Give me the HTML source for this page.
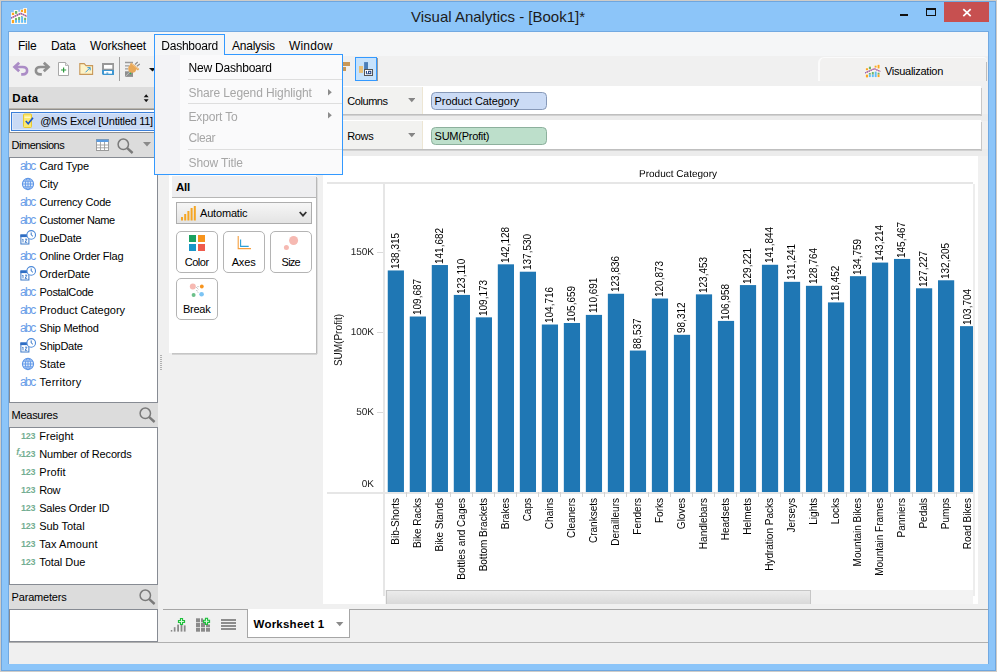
<!DOCTYPE html>
<html><head><meta charset="utf-8"><title>Visual Analytics</title>
<style>
html,body{margin:0;padding:0;}
body{width:997px;height:672px;position:relative;overflow:hidden;background:#8cc5f9;font-family:"Liberation Sans", sans-serif;}
div,span.t,svg{position:absolute;box-sizing:border-box;}
span.t{white-space:pre;display:block;}
</style></head><body>
<div style="left:0px;top:0px;width:997px;height:672px;background:#cfccc8;"></div>
<div style="left:1px;top:1px;width:995px;height:670px;background:#6fa6de;"></div>
<div style="left:2px;top:2px;width:993px;height:668px;background:#8cc5f9;"></div>
<div style="left:8px;top:31px;width:981px;height:633px;background:#72a9e1;"></div>
<span class="t" style="font-size:15px;line-height:15px;color:#1c1c1c;letter-spacing:0.001px;left:411px;top:8.80px;">Visual Analytics - [Book1]*</span>
<svg style="left:11px;top:8px" width="16" height="16" viewBox="0 0 16 16">
<path d="M0 16 V4.2 H2.8 V2 H7.2 V3.8 H9.2 V1.4 H12.2 V0 H16 V16 Z" fill="#fdf9f2"/>
<rect x="0.9" y="4.8" width="2.2" height="2.2" fill="#fba51f"/><rect x="4" y="3" width="2.2" height="2.8" fill="#6db56a"/>
<rect x="10" y="1.9" width="2" height="2.1" fill="#fba51f"/><rect x="13.1" y="0.9" width="2" height="4.1" fill="#fba51f"/>
<rect x="0.9" y="12" width="2.2" height="3.1" fill="#fba51f"/>
<rect x="4" y="10.1" width="2" height="1.9" fill="#6db56a"/><rect x="4" y="12" width="2" height="2.8" fill="#62bdf5"/>
<rect x="7.1" y="9" width="2" height="3" fill="#6db56a"/><rect x="7.1" y="12" width="2" height="2.8" fill="#62bdf5"/>
<rect x="10.1" y="8.6" width="2" height="6.2" fill="#62bdf5"/><rect x="10.3" y="8" width="1" height="1" fill="#6db56a"/>
<rect x="13.1" y="9.8" width="2" height="2.2" fill="#6db56a"/><rect x="13.1" y="12" width="2" height="2.8" fill="#62bdf5"/>
<path d="M0 10.1 L9.7 5.4 L16 8.4" stroke="#e89aa0" stroke-width="1.5" fill="none"/>
<path d="M0 10.1 L9.7 5.4 L16 8.4" stroke="#7a5cc0" stroke-width="1.5" fill="none" stroke-dasharray="1.1 1.1"/>
</svg>
<div style="left:900px;top:14px;width:8px;height:2px;background:#111;"></div>
<div style="left:926px;top:8px;width:10px;height:8px;border:1px solid #111;border-top-width:2px;"></div>
<div style="left:944px;top:2px;width:45px;height:20px;background:#c75050;"></div>
<svg style="left:962px;top:8px" width="10" height="9" viewBox="0 0 10 9"><path d="M1.3 1.2 L8.7 8.2 M8.7 1.2 L1.3 8.2" stroke="#fff" stroke-width="1.7" fill="none"/></svg>
<div style="left:9px;top:32px;width:979px;height:632px;background:#f0f0f0;"></div>
<div style="left:9px;top:32px;width:979px;height:24px;background:#f5f6f7;"></div>
<span class="t" style="font-size:12px;line-height:12px;color:#000;letter-spacing:-0.211px;left:18px;top:40.24px;">File</span>
<span class="t" style="font-size:12px;line-height:12px;color:#000;letter-spacing:-0.215px;left:51px;top:40.24px;">Data</span>
<span class="t" style="font-size:12px;line-height:12px;color:#000;letter-spacing:-0.127px;left:90px;top:40.24px;">Worksheet</span>
<span class="t" style="font-size:12px;line-height:12px;color:#000;letter-spacing:-0.235px;left:161.3px;top:40.24px;">Dashboard</span>
<span class="t" style="font-size:12px;line-height:12px;color:#000;letter-spacing:-0.236px;left:232px;top:40.24px;">Analysis</span>
<span class="t" style="font-size:12px;line-height:12px;color:#000;letter-spacing:0.169px;left:289px;top:40.24px;">Window</span>
<div style="left:9px;top:56px;width:979px;height:31px;background:#f0f0f0;"></div>
<svg style="left:12px;top:60px" width="18" height="18" viewBox="0 0 18 18">
<path d="M7.2 2.8 L2.6 7 L7.2 11.2" stroke="#ab8cc6" stroke-width="2.8" fill="none" stroke-linejoin="miter"/>
<path d="M3 7 H10.5 C16.6 7 16.6 14.4 10.8 14.4 H9.2" stroke="#ab8cc6" stroke-width="2.6" fill="none"/></svg>
<svg style="left:33px;top:60px" width="18" height="18" viewBox="0 0 18 18">
<path d="M10.8 2.8 L15.4 7 L10.8 11.2" stroke="#8f8f8f" stroke-width="2.8" fill="none"/>
<path d="M15 7 H7.5 C1.4 7 1.4 14.4 7.2 14.4 H8.8" stroke="#8f8f8f" stroke-width="2.6" fill="none"/></svg>
<svg style="left:57px;top:61px" width="14" height="16" viewBox="0 0 14 16">
<path d="M1.5 1.5 H8.5 L11.5 4.5 V14.5 H1.5 Z" fill="#fff" stroke="#a8a8a8" stroke-width="1"/>
<path d="M8.5 1.5 V4.5 H11.5" fill="#e8e8e8" stroke="#a8a8a8" stroke-width="0.8"/>
<path d="M4 9 H9.2 M6.6 6.4 V11.6" stroke="#2e9a3e" stroke-width="1.2"/></svg>
<svg style="left:79px;top:62px" width="15" height="14" viewBox="0 0 15 14">
<path d="M0.8 1.6 H5.2 L7 3.6 H13.6 V12.4 H0.8 Z" fill="#fdf3c8" stroke="#c8985a" stroke-width="1.1"/>
<path d="M6.5 10.3 L11 5.8 M8.4 5.6 H11.2 V8.4" stroke="#3a9ad8" stroke-width="1" fill="none"/></svg>
<svg style="left:102px;top:63px" width="12" height="12" viewBox="0 0 12 12">
<path d="M0 0 H12 V12 H1 L0 11 Z" fill="#3f96d0"/>
<rect x="0" y="0" width="12" height="6.9" fill="#989898"/>
<rect x="2" y="2" width="8.3" height="3.7" fill="#fff"/>
<rect x="2" y="8" width="8" height="2.7" fill="#fff"/><rect x="4.4" y="9.5" width="1.9" height="1.2" fill="#3f96d0"/></svg>
<div style="left:119px;top:57px;width:1px;height:24px;background:#a0a0a0;"></div>
<svg style="left:124px;top:60px" width="18" height="18" viewBox="0 0 18 18">
<path d="M1 2.5 H9 M1 5.8 H5.5 M1 8.9 H4" stroke="#9a9a9a" stroke-width="1.3"/>
<rect x="1" y="11.3" width="8" height="5.6" fill="#8e8e8e"/>
<path d="M1 16.9 L6.5 11.3" stroke="#c4c4c4" stroke-width="0.9"/>
<path d="M11 4.5 L13.7 2 M12.9 6.3 L15.8 4" stroke="#8a8a8a" stroke-width="1.1"/>
<circle cx="8.2" cy="8.7" r="4" fill="#e8a858"/>
<path d="M7.2 2.6 L15.3 9 L13.9 10.4 L5.8 4.5 Z" fill="#e8a858"/>
<path d="M7.4 3.7 L14.2 9" stroke="#f4d0a0" stroke-width="0.7"/>
<circle cx="6.4" cy="13.5" r="0.8" fill="#20c040"/></svg>
<svg style="left:149px;top:68px" width="7" height="4" viewBox="0 0 7 4"><path d="M0 0 H7 L3.5 3.5 Z" fill="#111"/></svg>
<div style="left:343px;top:62px;width:7px;height:4px;background:#c89858;"></div>
<div style="left:343px;top:67px;width:3px;height:4px;background:#c89858;"></div>
<div style="left:377px;top:58px;width:1px;height:23px;background:#9a9a9a;"></div>
<div style="left:355px;top:57px;width:22.4px;height:24px;background:#c6e2fc;border:1px solid #3399ff;"></div>
<svg style="left:358px;top:61px" width="16" height="16" viewBox="0 0 16 16">
<rect x="1" y="5" width="4" height="6.9" fill="#e8c078"/><rect x="6.1" y="1.1" width="3.9" height="7" fill="#4a7eb8"/>
<rect x="6.5" y="8.5" width="8" height="6" fill="#fff" stroke="#555" stroke-width="1"/>
<path d="M8.4 10 V12.8 H9.8" stroke="#1a3a78" stroke-width="1" fill="none"/><rect x="10.6" y="10.3" width="2.2" height="2.4" fill="none" stroke="#1a3a78" stroke-width="1"/></svg>
<div style="left:818px;top:57px;width:169px;height:24px;background:#f2f1f0;border-left:2px solid #fbfbfb;border-top:1px solid #fbfbfb;border-radius:6px 4px 0 0;"></div>
<div style="left:986px;top:62px;width:1px;height:19px;background:#bdbdbd;"></div>
<span class="t" style="font-size:11px;line-height:11px;color:#000;letter-spacing:-0.274px;left:885px;top:66.09px;">Visualization</span>
<svg style="left:865.2px;top:63.8px" width="15.4" height="14.2" viewBox="0 0 16 16" preserveAspectRatio="none">
<path d="M0 16 V4.2 H2.8 V2 H7.2 V3.8 H9.2 V1.4 H12.2 V0 H16 V16 Z" fill="#fdf9f2" opacity="0.6"/>
<rect x="0.9" y="4.8" width="2.2" height="2.2" fill="#fba51f"/><rect x="4" y="3" width="2.2" height="2.8" fill="#6db56a"/>
<rect x="10" y="1.9" width="2" height="2.1" fill="#fba51f"/><rect x="13.1" y="0.9" width="2" height="4.1" fill="#fba51f"/>
<rect x="0.9" y="12" width="2.2" height="3.1" fill="#fba51f"/>
<rect x="4" y="10.1" width="2" height="1.9" fill="#6db56a"/><rect x="4" y="12" width="2" height="2.8" fill="#62bdf5"/>
<rect x="7.1" y="9" width="2" height="3" fill="#6db56a"/><rect x="7.1" y="12" width="2" height="2.8" fill="#62bdf5"/>
<rect x="10.1" y="8.6" width="2" height="6.2" fill="#62bdf5"/>
<rect x="13.1" y="9.8" width="2" height="2.2" fill="#6db56a"/><rect x="13.1" y="12" width="2" height="2.8" fill="#fba51f"/>
<path d="M0 10.1 L9.7 5.4 L16 8.4" stroke="#e89aa0" stroke-width="1.4" fill="none"/>
<path d="M0 10.1 L9.7 5.4 L16 8.4" stroke="#7a5cc0" stroke-width="1.4" fill="none" stroke-dasharray="1.1 1.1"/>
</svg>
<div style="left:9px;top:87px;width:149px;height:22px;background:#dcdcdc;border-bottom:1px solid #b8b4ac;"></div>
<span class="t" style="font-size:11.5px;line-height:11.5px;color:#000;letter-spacing:0.316px;font-weight:bold;left:12.3px;top:92.67px;">Data</span>
<svg style="left:143.4px;top:93.8px" width="6.4" height="8.4" viewBox="0 0 8 11"><path d="M4 0.3 L7.2 4.2 H0.8 Z M4 10.7 L7.2 6.8 H0.8 Z" fill="#111"/></svg>
<div style="left:9px;top:109px;width:149px;height:24px;background:#fff;border:1px solid #8e8e8e;border-right:none;"></div>
<div style="left:11px;top:112px;width:146px;height:19px;background:#c9daf5;border:1px solid #3c7fd8;border-right:none;box-shadow:inset 0 0 0 1px #dce8fa;"></div>
<svg style="left:22px;top:113px" width="14" height="16" viewBox="0 0 14 16">
<rect x="1.5" y="1" width="8" height="13.5" rx="1" fill="#fbe870" stroke="#e8c830" stroke-width="1"/>
<rect x="2.5" y="3.5" width="6" height="1.5" fill="#fff8c0"/>
<path d="M3.8 8 L6.2 10.8 L11 4.8" stroke="#1a58c8" stroke-width="1.6" fill="none"/></svg>
<span class="t" style="font-size:11px;line-height:11px;color:#000;letter-spacing:-0.255px;left:40.2px;top:116.09px;">@MS Excel [Untitled 11]</span>
<div style="left:9px;top:133.4px;width:149px;height:24px;background:#dcdcdc;"></div>
<span class="t" style="font-size:11px;line-height:11px;color:#000;letter-spacing:-0.487px;left:11.6px;top:140.09px;">Dimensions</span>
<svg style="left:96px;top:139px" width="13" height="12" viewBox="0 0 14 12" preserveAspectRatio="none">
<rect x="0.5" y="0.5" width="13" height="11" fill="#fff" stroke="#9a9a9a" stroke-width="1"/>
<rect x="0.5" y="0.5" width="13" height="2.5" fill="#5b9be0"/>
<path d="M0.5 6 H13.5 M0.5 8.8 H13.5 M4.8 3 V11.5 M9.2 3 V11.5" stroke="#9a9a9a" stroke-width="0.9"/></svg>
<svg style="left:117px;top:137.6px" width="17" height="16" viewBox="0 0 17 16"><circle cx="6.3" cy="6.3" r="5.2" fill="none" stroke="#7a7a7a" stroke-width="1.5"/><path d="M10.2 10.2 L15.6 15" stroke="#7a7a7a" stroke-width="2.4"/></svg>
<svg style="left:143px;top:142px" width="8" height="5" viewBox="0 0 8 5"><path d="M0 0 H8 L4 4.6 Z" fill="#8a8a8a"/></svg>
<div style="left:9px;top:157px;width:149px;height:246px;background:#fff;border:1px solid #878b93;"></div>
<span class="t" style="font-size:12px;line-height:12px;color:#6a9ee8;letter-spacing:-1.586px;left:20.0px;top:160.24px;">abc</span>
<span class="t" style="font-size:11px;line-height:11px;color:#000;letter-spacing:-0.118px;left:39.6px;top:161.09px;">Card Type</span>
<svg style="left:21.4px;top:176.8px" width="14" height="14" viewBox="0 0 14 14">
<circle cx="7" cy="7" r="5.6" fill="#dce9fb" stroke="#5f96e6" stroke-width="1.1"/>
<ellipse cx="7" cy="7" rx="2.6" ry="5.6" fill="none" stroke="#5f96e6" stroke-width="0.9"/>
<path d="M7 1.4 V12.6 M1.4 7 H12.6 M2.3 4.2 H11.7 M2.3 9.8 H11.7" stroke="#5f96e6" stroke-width="0.9"/></svg>
<span class="t" style="font-size:11px;line-height:11px;color:#000;letter-spacing:-0.088px;left:39.6px;top:179.09px;">City</span>
<span class="t" style="font-size:12px;line-height:12px;color:#6a9ee8;letter-spacing:-1.586px;left:20.0px;top:196.24px;">abc</span>
<span class="t" style="font-size:11px;line-height:11px;color:#000;letter-spacing:-0.199px;left:39.6px;top:197.09px;">Currency Code</span>
<span class="t" style="font-size:12px;line-height:12px;color:#6a9ee8;letter-spacing:-1.586px;left:20.0px;top:214.24px;">abc</span>
<span class="t" style="font-size:11px;line-height:11px;color:#000;letter-spacing:-0.375px;left:39.6px;top:215.09px;">Customer Name</span>
<svg style="left:19px;top:230.4px" width="18" height="16" viewBox="0 0 18 16">
<rect x="1.9" y="5" width="8" height="9" fill="#fff" stroke="#3a78c8" stroke-width="1"/>
<rect x="1.4" y="4.5" width="9" height="2.6" fill="#2f6ec4"/>
<path d="M4 9 V12.4 M3.3 9.6 L4 9 M6 9.2 H8 L6 12.3 H8.2" stroke="#3a78c8" stroke-width="0.9" fill="none"/>
<circle cx="12.2" cy="4.9" r="4.3" fill="#fff" stroke="#4a88d8" stroke-width="1.1"/>
<path d="M12.2 2.4 V5 L14 6.3" stroke="#3a78c8" stroke-width="1" fill="none"/></svg>
<span class="t" style="font-size:11px;line-height:11px;color:#000;letter-spacing:-0.217px;left:39.6px;top:233.09px;">DueDate</span>
<span class="t" style="font-size:12px;line-height:12px;color:#6a9ee8;letter-spacing:-1.586px;left:20.0px;top:250.24px;">abc</span>
<span class="t" style="font-size:11px;line-height:11px;color:#000;letter-spacing:-0.214px;left:39.6px;top:251.09px;">Online Order Flag</span>
<svg style="left:19px;top:266.4px" width="18" height="16" viewBox="0 0 18 16">
<rect x="1.9" y="5" width="8" height="9" fill="#fff" stroke="#3a78c8" stroke-width="1"/>
<rect x="1.4" y="4.5" width="9" height="2.6" fill="#2f6ec4"/>
<path d="M4 9 V12.4 M3.3 9.6 L4 9 M6 9.2 H8 L6 12.3 H8.2" stroke="#3a78c8" stroke-width="0.9" fill="none"/>
<circle cx="12.2" cy="4.9" r="4.3" fill="#fff" stroke="#4a88d8" stroke-width="1.1"/>
<path d="M12.2 2.4 V5 L14 6.3" stroke="#3a78c8" stroke-width="1" fill="none"/></svg>
<span class="t" style="font-size:11px;line-height:11px;color:#000;letter-spacing:-0.095px;left:39.6px;top:269.09px;">OrderDate</span>
<span class="t" style="font-size:12px;line-height:12px;color:#6a9ee8;letter-spacing:-1.586px;left:20.0px;top:286.24px;">abc</span>
<span class="t" style="font-size:11px;line-height:11px;color:#000;letter-spacing:-0.308px;left:39.6px;top:287.09px;">PostalCode</span>
<span class="t" style="font-size:12px;line-height:12px;color:#6a9ee8;letter-spacing:-1.586px;left:20.0px;top:304.24px;">abc</span>
<span class="t" style="font-size:11px;line-height:11px;color:#000;letter-spacing:-0.007px;left:39.6px;top:305.09px;">Product Category</span>
<span class="t" style="font-size:12px;line-height:12px;color:#6a9ee8;letter-spacing:-1.586px;left:20.0px;top:322.24px;">abc</span>
<span class="t" style="font-size:11px;line-height:11px;color:#000;letter-spacing:-0.251px;left:39.6px;top:323.09px;">Ship Method</span>
<svg style="left:19px;top:338.4px" width="18" height="16" viewBox="0 0 18 16">
<rect x="1.9" y="5" width="8" height="9" fill="#fff" stroke="#3a78c8" stroke-width="1"/>
<rect x="1.4" y="4.5" width="9" height="2.6" fill="#2f6ec4"/>
<path d="M4 9 V12.4 M3.3 9.6 L4 9 M6 9.2 H8 L6 12.3 H8.2" stroke="#3a78c8" stroke-width="0.9" fill="none"/>
<circle cx="12.2" cy="4.9" r="4.3" fill="#fff" stroke="#4a88d8" stroke-width="1.1"/>
<path d="M12.2 2.4 V5 L14 6.3" stroke="#3a78c8" stroke-width="1" fill="none"/></svg>
<span class="t" style="font-size:11px;line-height:11px;color:#000;letter-spacing:-0.296px;left:39.6px;top:341.09px;">ShipDate</span>
<svg style="left:21.4px;top:356.79999999999995px" width="14" height="14" viewBox="0 0 14 14">
<circle cx="7" cy="7" r="5.6" fill="#dce9fb" stroke="#5f96e6" stroke-width="1.1"/>
<ellipse cx="7" cy="7" rx="2.6" ry="5.6" fill="none" stroke="#5f96e6" stroke-width="0.9"/>
<path d="M7 1.4 V12.6 M1.4 7 H12.6 M2.3 4.2 H11.7 M2.3 9.8 H11.7" stroke="#5f96e6" stroke-width="0.9"/></svg>
<span class="t" style="font-size:11px;line-height:11px;color:#000;letter-spacing:0.002px;left:39.6px;top:359.09px;">State</span>
<span class="t" style="font-size:12px;line-height:12px;color:#6a9ee8;letter-spacing:-1.586px;left:20.0px;top:376.24px;">abc</span>
<span class="t" style="font-size:11px;line-height:11px;color:#000;letter-spacing:0.241px;left:39.6px;top:377.09px;">Territory</span>
<div style="left:9px;top:403px;width:149px;height:24px;background:#dcdcdc;"></div>
<span class="t" style="font-size:11px;line-height:11px;color:#000;letter-spacing:-0.287px;left:11.6px;top:410.09px;">Measures</span>
<svg style="left:139px;top:407.3px" width="17" height="16" viewBox="0 0 17 16"><circle cx="6.3" cy="6.3" r="5.2" fill="none" stroke="#7a7a7a" stroke-width="1.5"/><path d="M10.2 10.2 L15.6 15" stroke="#7a7a7a" stroke-width="2.4"/></svg>
<div style="left:9px;top:427px;width:149px;height:158px;background:#fff;border:1px solid #878b93;"></div>
<span class="t" style="font-size:9px;line-height:9px;color:#74ae92;letter-spacing:-0.244px;font-weight:bold;left:21px;top:432.28px;">123</span>
<span class="t" style="font-size:11px;line-height:11px;color:#000;letter-spacing:0.036px;left:39.2px;top:431.09px;">Freight</span>
<span class="t" style="font-size:9px;line-height:9px;color:#74ae92;letter-spacing:-0.244px;font-weight:bold;left:21px;top:450.28px;">123</span>
<span class="t" style="font-size:9px;line-height:9px;color:#74ae92;font-weight:bold;left:16.3px;top:447.78px;font-style:italic;">f</span>
<span class="t" style="font-size:6px;line-height:6px;color:#74ae92;font-weight:bold;left:18.6px;top:451.72px;">x</span>
<span class="t" style="font-size:11px;line-height:11px;color:#000;letter-spacing:-0.175px;left:39.2px;top:449.09px;">Number of Records</span>
<span class="t" style="font-size:9px;line-height:9px;color:#74ae92;letter-spacing:-0.244px;font-weight:bold;left:21px;top:468.28px;">123</span>
<span class="t" style="font-size:11px;line-height:11px;color:#000;letter-spacing:0.135px;left:39.2px;top:467.09px;">Profit</span>
<span class="t" style="font-size:9px;line-height:9px;color:#74ae92;letter-spacing:-0.244px;font-weight:bold;left:21px;top:486.28px;">123</span>
<span class="t" style="font-size:11px;line-height:11px;color:#000;letter-spacing:-0.339px;left:39.2px;top:485.09px;">Row</span>
<span class="t" style="font-size:9px;line-height:9px;color:#74ae92;letter-spacing:-0.244px;font-weight:bold;left:21px;top:504.28px;">123</span>
<span class="t" style="font-size:11px;line-height:11px;color:#000;letter-spacing:-0.182px;left:39.2px;top:503.09px;">Sales Order ID</span>
<span class="t" style="font-size:9px;line-height:9px;color:#74ae92;letter-spacing:-0.244px;font-weight:bold;left:21px;top:522.28px;">123</span>
<span class="t" style="font-size:11px;line-height:11px;color:#000;letter-spacing:-0.030px;left:39.2px;top:521.09px;">Sub Total</span>
<span class="t" style="font-size:9px;line-height:9px;color:#74ae92;letter-spacing:-0.244px;font-weight:bold;left:21px;top:540.28px;">123</span>
<span class="t" style="font-size:11px;line-height:11px;color:#000;letter-spacing:0.092px;left:39.2px;top:539.09px;">Tax Amount</span>
<span class="t" style="font-size:9px;line-height:9px;color:#74ae92;letter-spacing:-0.244px;font-weight:bold;left:21px;top:558.28px;">123</span>
<span class="t" style="font-size:11px;line-height:11px;color:#000;letter-spacing:-0.032px;left:39.2px;top:557.09px;">Total Due</span>
<div style="left:9px;top:585px;width:149px;height:24px;background:#dcdcdc;"></div>
<span class="t" style="font-size:11px;line-height:11px;color:#000;letter-spacing:-0.186px;left:11.6px;top:592.09px;">Parameters</span>
<svg style="left:139px;top:589.3px" width="17" height="16" viewBox="0 0 17 16"><circle cx="6.3" cy="6.3" r="5.2" fill="none" stroke="#7a7a7a" stroke-width="1.5"/><path d="M10.2 10.2 L15.6 15" stroke="#7a7a7a" stroke-width="2.4"/></svg>
<div style="left:9px;top:609px;width:149px;height:32.5px;background:#fff;border:1px solid #878b93;"></div>
<div style="left:160px;top:355px;width:2px;height:1px;background:#b0b0b0;"></div>
<div style="left:160px;top:357px;width:2px;height:1px;background:#b0b0b0;"></div>
<div style="left:160px;top:359px;width:2px;height:1px;background:#b0b0b0;"></div>
<div style="left:160px;top:361px;width:2px;height:1px;background:#b0b0b0;"></div>
<div style="left:160px;top:363px;width:2px;height:1px;background:#b0b0b0;"></div>
<div style="left:160px;top:365px;width:2px;height:1px;background:#b0b0b0;"></div>
<div style="left:160px;top:367px;width:2px;height:1px;background:#b0b0b0;"></div>
<div style="left:160px;top:369px;width:2px;height:1px;background:#b0b0b0;"></div>
<div style="left:316px;top:177px;width:1px;height:177px;background:#b8b8b8;"></div>
<div style="left:317px;top:178px;width:1px;height:176px;background:#dcdcdc;"></div>
<div style="left:172px;top:353px;width:145px;height:2px;background:linear-gradient(#bebebe,#dcdcdc);"></div>
<div style="left:169px;top:175px;width:147px;height:178px;background:#fff;"></div>
<div style="left:172px;top:176px;width:144px;height:22px;background:#eeeef0;border-bottom:1px solid #b6b6b6;"></div>
<span class="t" style="font-size:11.5px;line-height:11.5px;color:#000;letter-spacing:-0.234px;font-weight:bold;left:176px;top:181.67px;">All</span>
<div style="left:176px;top:202px;width:136px;height:22px;border:1px solid #adadad;background:linear-gradient(#f6f6f6,#e4e4e4);"></div>
<svg style="left:181px;top:206px" width="15" height="15" viewBox="0 0 15 15">
<rect x="0" y="11" width="2" height="3.5" fill="#f5a623"/><rect x="3.2" y="8" width="2" height="6.5" fill="#f5a623"/><rect x="6.4" y="5" width="2" height="9.5" fill="#f5a623"/><rect x="9.6" y="2" width="2" height="12.5" fill="#f5a623"/><rect x="12.8" y="0" width="2" height="14.5" fill="#f5a623"/></svg>
<span class="t" style="font-size:11px;line-height:11px;color:#000;letter-spacing:-0.180px;left:200px;top:208.09px;">Automatic</span>
<svg style="left:298.5px;top:210.6px" width="8" height="6.4" viewBox="0 0 9 7"><path d="M0.8 1 L4.5 5.2 L8.2 1" stroke="#333" stroke-width="2" fill="none"/></svg>
<div style="left:176px;top:231.2px;width:42px;height:41.5px;background:#fff;border:1px solid #b4b4b4;border-radius:5px;"></div>
<div style="left:223px;top:231.2px;width:42px;height:41.5px;background:#fff;border:1px solid #b4b4b4;border-radius:5px;"></div>
<div style="left:270px;top:231.2px;width:42px;height:41.5px;background:#fff;border:1px solid #b4b4b4;border-radius:5px;"></div>
<div style="left:176px;top:278.4px;width:42px;height:41.5px;background:#fff;border:1px solid #b4b4b4;border-radius:5px;"></div>
<div style="left:189px;top:235px;width:7px;height:7px;background:#1ba260;"></div>
<div style="left:198px;top:235px;width:7px;height:7px;background:#f7941d;"></div>
<div style="left:189px;top:244px;width:7px;height:7px;background:#1a96c8;"></div>
<div style="left:198px;top:244px;width:7px;height:7px;background:#ef5b4c;"></div>
<span class="t" style="font-size:11px;line-height:11px;color:#000;letter-spacing:-0.499px;left:184.8px;top:257.09px;">Color</span>
<svg style="left:236px;top:234px" width="17" height="17" viewBox="0 0 17 17">
<path d="M2.2 2 V14.6 H15" stroke="#f5a040" stroke-width="1.1" fill="none"/>
<path d="M4.6 5.5 V12.4 H12.7" stroke="#2aa0d8" stroke-width="1.1" fill="none"/></svg>
<span class="t" style="font-size:11px;line-height:11px;color:#000;letter-spacing:-0.167px;left:231.7px;top:257.09px;">Axes</span>
<svg style="left:283px;top:234px" width="17" height="17" viewBox="0 0 17 17">
<circle cx="10.6" cy="6.5" r="4.5" fill="#f6b9b2"/><circle cx="3.4" cy="13.4" r="2.5" fill="#f6b9b2"/></svg>
<span class="t" style="font-size:11px;line-height:11px;color:#000;letter-spacing:-0.752px;left:281.6px;top:257.09px;">Size</span>
<svg style="left:188px;top:282px" width="18" height="18" viewBox="0 0 18 18">
<circle cx="4.8" cy="4.5" r="3" fill="#f6b9b2"/><circle cx="13.8" cy="4.5" r="1.9" fill="#f7941d"/>
<circle cx="5.6" cy="13" r="2" fill="#6cc08a"/><circle cx="13.6" cy="12.2" r="2.3" fill="#7cc4f4"/>
<path d="M8 5 L11 8 M9.5 4.6 H11.5 M8.5 8 L10 10.5" stroke="#888" stroke-width="0.7" stroke-dasharray="1 1"/></svg>
<span class="t" style="font-size:11px;line-height:11px;color:#000;letter-spacing:-0.250px;left:183px;top:304.09px;">Break</span>
<div style="left:343px;top:114px;width:645px;height:7px;background:#ececec;"></div>
<div style="left:343px;top:149px;width:645px;height:7px;background:#ececec;"></div>
<div style="left:343px;top:114px;width:638.5px;height:2px;background:linear-gradient(#b6b6b6,#dadada);"></div>
<div style="left:980px;top:88px;width:1.5px;height:28px;background:#c8c8c8;"></div>
<div style="left:343px;top:86px;width:637.5px;height:28px;background:#fff;"></div>
<div style="left:343px;top:87px;width:80px;height:27px;background:#f2f2f0;border-right:1px solid #ede6d4;"></div>
<span class="t" style="font-size:11px;line-height:11px;color:#000;letter-spacing:-0.444px;left:347.3px;top:96.09px;">Columns</span>
<svg style="left:407.7px;top:98px" width="7.6" height="4.6" viewBox="0 0 8 5"><path d="M0 0 H8 L4 4.7 Z" fill="#858585"/></svg>
<div style="left:431px;top:92px;width:116px;height:17.8px;background:#cbdbf5;border:1px solid #8799b8;border-radius:4.5px;"></div>
<span class="t" style="font-size:11px;line-height:11px;color:#000;letter-spacing:-0.082px;left:434.6px;top:96.09px;">Product Category</span>
<div style="left:343px;top:149px;width:638.5px;height:2px;background:linear-gradient(#b6b6b6,#dadada);"></div>
<div style="left:980px;top:122px;width:1.5px;height:29px;background:#c8c8c8;"></div>
<div style="left:343px;top:120px;width:637.5px;height:29px;background:#fff;"></div>
<div style="left:343px;top:121px;width:80px;height:28px;background:#f2f2f0;border-right:1px solid #ede6d4;"></div>
<span class="t" style="font-size:11px;line-height:11px;color:#000;letter-spacing:-0.379px;left:347.3px;top:131.09px;">Rows</span>
<svg style="left:407.7px;top:133px" width="7.6" height="4.6" viewBox="0 0 8 5"><path d="M0 0 H8 L4 4.7 Z" fill="#858585"/></svg>
<div style="left:431px;top:127.2px;width:116px;height:17.8px;background:#bddfcb;border:1px solid #8db09d;border-radius:4.5px;"></div>
<span class="t" style="font-size:11px;line-height:11px;color:#000;letter-spacing:-0.250px;left:434.6px;top:131.09px;">SUM(Profit)</span>
<div style="left:323px;top:156px;width:655px;height:448px;background:#fff;"></div>
<div style="left:327px;top:182px;width:646px;height:2px;background:#e6e6e6;"></div>
<div style="left:383px;top:182px;width:2px;height:413.5px;background:#e6e6e6;"></div>
<div style="left:327px;top:492px;width:646px;height:2px;background:#e6e6e6;"></div>
<div style="left:973px;top:184px;width:2px;height:412px;background:#ededed;"></div>
<svg style="left:0;top:0" width="997" height="672" viewBox="0 0 997 672"><rect x="387.75" y="270.45" width="16.20" height="221.55" fill="#1f77b4"/><rect x="409.76" y="316.51" width="16.20" height="175.49" fill="#1f77b4"/><rect x="406" y="492" width="1" height="5" fill="#d4d4d4"/><rect x="431.77" y="265.03" width="16.20" height="226.97" fill="#1f77b4"/><rect x="428" y="492" width="1" height="5" fill="#d4d4d4"/><rect x="453.78" y="294.92" width="16.20" height="197.08" fill="#1f77b4"/><rect x="450" y="492" width="1" height="5" fill="#d4d4d4"/><rect x="475.79" y="317.34" width="16.20" height="174.66" fill="#1f77b4"/><rect x="472" y="492" width="1" height="5" fill="#d4d4d4"/><rect x="497.80" y="264.32" width="16.20" height="227.68" fill="#1f77b4"/><rect x="494" y="492" width="1" height="5" fill="#d4d4d4"/><rect x="519.81" y="271.71" width="16.20" height="220.29" fill="#1f77b4"/><rect x="516" y="492" width="1" height="5" fill="#d4d4d4"/><rect x="541.82" y="324.51" width="16.20" height="167.49" fill="#1f77b4"/><rect x="538" y="492" width="1" height="5" fill="#d4d4d4"/><rect x="563.83" y="322.99" width="16.20" height="169.01" fill="#1f77b4"/><rect x="560" y="492" width="1" height="5" fill="#d4d4d4"/><rect x="585.84" y="314.90" width="16.20" height="177.10" fill="#1f77b4"/><rect x="582" y="492" width="1" height="5" fill="#d4d4d4"/><rect x="607.85" y="293.75" width="16.20" height="198.25" fill="#1f77b4"/><rect x="604" y="492" width="1" height="5" fill="#d4d4d4"/><rect x="629.86" y="350.54" width="16.20" height="141.46" fill="#1f77b4"/><rect x="626" y="492" width="1" height="5" fill="#d4d4d4"/><rect x="651.87" y="298.52" width="16.20" height="193.48" fill="#1f77b4"/><rect x="648" y="492" width="1" height="5" fill="#d4d4d4"/><rect x="673.88" y="334.82" width="16.20" height="157.18" fill="#1f77b4"/><rect x="670" y="492" width="1" height="5" fill="#d4d4d4"/><rect x="695.89" y="294.36" width="16.20" height="197.64" fill="#1f77b4"/><rect x="692" y="492" width="1" height="5" fill="#d4d4d4"/><rect x="717.90" y="320.90" width="16.20" height="171.10" fill="#1f77b4"/><rect x="714" y="492" width="1" height="5" fill="#d4d4d4"/><rect x="739.91" y="285.08" width="16.20" height="206.92" fill="#1f77b4"/><rect x="736" y="492" width="1" height="5" fill="#d4d4d4"/><rect x="761.92" y="264.77" width="16.20" height="227.23" fill="#1f77b4"/><rect x="758" y="492" width="1" height="5" fill="#d4d4d4"/><rect x="783.93" y="281.83" width="16.20" height="210.17" fill="#1f77b4"/><rect x="780" y="492" width="1" height="5" fill="#d4d4d4"/><rect x="805.94" y="285.82" width="16.20" height="206.18" fill="#1f77b4"/><rect x="802" y="492" width="1" height="5" fill="#d4d4d4"/><rect x="827.95" y="302.41" width="16.20" height="189.59" fill="#1f77b4"/><rect x="824" y="492" width="1" height="5" fill="#d4d4d4"/><rect x="849.96" y="276.17" width="16.20" height="215.83" fill="#1f77b4"/><rect x="846" y="492" width="1" height="5" fill="#d4d4d4"/><rect x="871.97" y="262.57" width="16.20" height="229.43" fill="#1f77b4"/><rect x="868" y="492" width="1" height="5" fill="#d4d4d4"/><rect x="893.98" y="258.94" width="16.20" height="233.06" fill="#1f77b4"/><rect x="890" y="492" width="1" height="5" fill="#d4d4d4"/><rect x="915.99" y="288.29" width="16.20" height="203.71" fill="#1f77b4"/><rect x="912" y="492" width="1" height="5" fill="#d4d4d4"/><rect x="938.00" y="280.28" width="16.20" height="211.72" fill="#1f77b4"/><rect x="934" y="492" width="1" height="5" fill="#d4d4d4"/><rect x="960.01" y="326.14" width="12.99" height="165.86" fill="#1f77b4"/><rect x="956" y="492" width="1" height="5" fill="#d4d4d4"/></svg>
<div style="left:0;top:0;width:997px;height:672px;will-change:transform;">
<span class="t" style="font-size:10px;line-height:10px;color:#000;left:395.55px;top:269.051165px;transform-origin:0 0;transform:rotate(-90deg) translate(0,-50%);">138,315</span>
<span class="t" style="font-size:10px;line-height:10px;color:#000;left:395.55px;top:497.9px;transform-origin:0 0;transform:rotate(-90deg) translate(-100%,-50%);">Bib-Shorts</span>
<span class="t" style="font-size:10px;line-height:10px;color:#000;left:417.56px;top:315.11361700000003px;transform-origin:0 0;transform:rotate(-90deg) translate(0,-50%);">109,687</span>
<span class="t" style="font-size:10px;line-height:10px;color:#000;left:417.56px;top:497.9px;transform-origin:0 0;transform:rotate(-90deg) translate(-100%,-50%);">Bike Racks</span>
<span class="t" style="font-size:10px;line-height:10px;color:#000;left:439.57px;top:263.6336620000001px;transform-origin:0 0;transform:rotate(-90deg) translate(0,-50%);">141,682</span>
<span class="t" style="font-size:10px;line-height:10px;color:#000;left:439.57px;top:497.9px;transform-origin:0 0;transform:rotate(-90deg) translate(-100%,-50%);">Bike Stands</span>
<span class="t" style="font-size:10px;line-height:10px;color:#000;left:461.58px;top:293.51601000000005px;transform-origin:0 0;transform:rotate(-90deg) translate(0,-50%);">123,110</span>
<span class="t" style="font-size:10px;line-height:10px;color:#000;left:461.58px;top:497.9px;transform-origin:0 0;transform:rotate(-90deg) translate(-100%,-50%);">Bottles and Cages</span>
<span class="t" style="font-size:10px;line-height:10px;color:#000;left:483.59000000000003px;top:315.940643px;transform-origin:0 0;transform:rotate(-90deg) translate(0,-50%);">109,173</span>
<span class="t" style="font-size:10px;line-height:10px;color:#000;left:483.59000000000003px;top:497.9px;transform-origin:0 0;transform:rotate(-90deg) translate(-100%,-50%);">Bottom Brackets</span>
<span class="t" style="font-size:10px;line-height:10px;color:#000;left:505.6px;top:262.91604800000005px;transform-origin:0 0;transform:rotate(-90deg) translate(0,-50%);">142,128</span>
<span class="t" style="font-size:10px;line-height:10px;color:#000;left:505.6px;top:497.9px;transform-origin:0 0;transform:rotate(-90deg) translate(-100%,-50%);">Brakes</span>
<span class="t" style="font-size:10px;line-height:10px;color:#000;left:527.61px;top:270.31423px;transform-origin:0 0;transform:rotate(-90deg) translate(0,-50%);">137,530</span>
<span class="t" style="font-size:10px;line-height:10px;color:#000;left:527.61px;top:497.9px;transform-origin:0 0;transform:rotate(-90deg) translate(-100%,-50%);">Caps</span>
<span class="t" style="font-size:10px;line-height:10px;color:#000;left:549.6200000000001px;top:323.111956px;transform-origin:0 0;transform:rotate(-90deg) translate(0,-50%);">104,716</span>
<span class="t" style="font-size:10px;line-height:10px;color:#000;left:549.6200000000001px;top:497.9px;transform-origin:0 0;transform:rotate(-90deg) translate(-100%,-50%);">Chains</span>
<span class="t" style="font-size:10px;line-height:10px;color:#000;left:571.6300000000001px;top:321.594669px;transform-origin:0 0;transform:rotate(-90deg) translate(0,-50%);">105,659</span>
<span class="t" style="font-size:10px;line-height:10px;color:#000;left:571.6300000000001px;top:497.9px;transform-origin:0 0;transform:rotate(-90deg) translate(-100%,-50%);">Cleaners</span>
<span class="t" style="font-size:10px;line-height:10px;color:#000;left:593.6400000000001px;top:313.49818100000005px;transform-origin:0 0;transform:rotate(-90deg) translate(0,-50%);">110,691</span>
<span class="t" style="font-size:10px;line-height:10px;color:#000;left:593.6400000000001px;top:497.9px;transform-origin:0 0;transform:rotate(-90deg) translate(-100%,-50%);">Cranksets</span>
<span class="t" style="font-size:10px;line-height:10px;color:#000;left:615.6500000000001px;top:292.34787600000004px;transform-origin:0 0;transform:rotate(-90deg) translate(0,-50%);">123,836</span>
<span class="t" style="font-size:10px;line-height:10px;color:#000;left:615.6500000000001px;top:497.9px;transform-origin:0 0;transform:rotate(-90deg) translate(-100%,-50%);">Derailleurs</span>
<span class="t" style="font-size:10px;line-height:10px;color:#000;left:637.6600000000001px;top:349.143967px;transform-origin:0 0;transform:rotate(-90deg) translate(0,-50%);">88,537</span>
<span class="t" style="font-size:10px;line-height:10px;color:#000;left:637.6600000000001px;top:497.9px;transform-origin:0 0;transform:rotate(-90deg) translate(-100%,-50%);">Fenders</span>
<span class="t" style="font-size:10px;line-height:10px;color:#000;left:659.6700000000001px;top:297.11534300000005px;transform-origin:0 0;transform:rotate(-90deg) translate(0,-50%);">120,873</span>
<span class="t" style="font-size:10px;line-height:10px;color:#000;left:659.6700000000001px;top:497.9px;transform-origin:0 0;transform:rotate(-90deg) translate(-100%,-50%);">Forks</span>
<span class="t" style="font-size:10px;line-height:10px;color:#000;left:681.6800000000001px;top:333.415992px;transform-origin:0 0;transform:rotate(-90deg) translate(0,-50%);">98,312</span>
<span class="t" style="font-size:10px;line-height:10px;color:#000;left:681.6800000000001px;top:497.9px;transform-origin:0 0;transform:rotate(-90deg) translate(-100%,-50%);">Gloves</span>
<span class="t" style="font-size:10px;line-height:10px;color:#000;left:703.6900000000002px;top:292.96412300000003px;transform-origin:0 0;transform:rotate(-90deg) translate(0,-50%);">123,453</span>
<span class="t" style="font-size:10px;line-height:10px;color:#000;left:703.6900000000002px;top:497.9px;transform-origin:0 0;transform:rotate(-90deg) translate(-100%,-50%);">Handlebars</span>
<span class="t" style="font-size:10px;line-height:10px;color:#000;left:725.7000000000002px;top:319.50457800000004px;transform-origin:0 0;transform:rotate(-90deg) translate(0,-50%);">106,958</span>
<span class="t" style="font-size:10px;line-height:10px;color:#000;left:725.7000000000002px;top:497.9px;transform-origin:0 0;transform:rotate(-90deg) translate(-100%,-50%);">Headsets</span>
<span class="t" style="font-size:10px;line-height:10px;color:#000;left:747.7100000000002px;top:283.683411px;transform-origin:0 0;transform:rotate(-90deg) translate(0,-50%);">129,221</span>
<span class="t" style="font-size:10px;line-height:10px;color:#000;left:747.7100000000002px;top:497.9px;transform-origin:0 0;transform:rotate(-90deg) translate(-100%,-50%);">Helmets</span>
<span class="t" style="font-size:10px;line-height:10px;color:#000;left:769.7200000000001px;top:263.37300400000004px;transform-origin:0 0;transform:rotate(-90deg) translate(0,-50%);">141,844</span>
<span class="t" style="font-size:10px;line-height:10px;color:#000;left:769.7200000000001px;top:497.9px;transform-origin:0 0;transform:rotate(-90deg) translate(-100%,-50%);">Hydration Packs</span>
<span class="t" style="font-size:10px;line-height:10px;color:#000;left:791.7300000000001px;top:280.433231px;transform-origin:0 0;transform:rotate(-90deg) translate(0,-50%);">131,241</span>
<span class="t" style="font-size:10px;line-height:10px;color:#000;left:791.7300000000001px;top:497.9px;transform-origin:0 0;transform:rotate(-90deg) translate(-100%,-50%);">Jerseys</span>
<span class="t" style="font-size:10px;line-height:10px;color:#000;left:813.7400000000001px;top:284.418724px;transform-origin:0 0;transform:rotate(-90deg) translate(0,-50%);">128,764</span>
<span class="t" style="font-size:10px;line-height:10px;color:#000;left:813.7400000000001px;top:497.9px;transform-origin:0 0;transform:rotate(-90deg) translate(-100%,-50%);">Lights</span>
<span class="t" style="font-size:10px;line-height:10px;color:#000;left:835.7500000000001px;top:301.010732px;transform-origin:0 0;transform:rotate(-90deg) translate(0,-50%);">118,452</span>
<span class="t" style="font-size:10px;line-height:10px;color:#000;left:835.7500000000001px;top:497.9px;transform-origin:0 0;transform:rotate(-90deg) translate(-100%,-50%);">Locks</span>
<span class="t" style="font-size:10px;line-height:10px;color:#000;left:857.7600000000001px;top:274.77276900000004px;transform-origin:0 0;transform:rotate(-90deg) translate(0,-50%);">134,759</span>
<span class="t" style="font-size:10px;line-height:10px;color:#000;left:857.7600000000001px;top:497.9px;transform-origin:0 0;transform:rotate(-90deg) translate(-100%,-50%);">Mountain Bikes</span>
<span class="t" style="font-size:10px;line-height:10px;color:#000;left:879.7700000000001px;top:261.168674px;transform-origin:0 0;transform:rotate(-90deg) translate(0,-50%);">143,214</span>
<span class="t" style="font-size:10px;line-height:10px;color:#000;left:879.7700000000001px;top:497.9px;transform-origin:0 0;transform:rotate(-90deg) translate(-100%,-50%);">Mountain Frames</span>
<span class="t" style="font-size:10px;line-height:10px;color:#000;left:901.7800000000001px;top:257.543597px;transform-origin:0 0;transform:rotate(-90deg) translate(0,-50%);">145,467</span>
<span class="t" style="font-size:10px;line-height:10px;color:#000;left:901.7800000000001px;top:497.9px;transform-origin:0 0;transform:rotate(-90deg) translate(-100%,-50%);">Panniers</span>
<span class="t" style="font-size:10px;line-height:10px;color:#000;left:923.7900000000001px;top:286.891757px;transform-origin:0 0;transform:rotate(-90deg) translate(0,-50%);">127,227</span>
<span class="t" style="font-size:10px;line-height:10px;color:#000;left:923.7900000000001px;top:497.9px;transform-origin:0 0;transform:rotate(-90deg) translate(-100%,-50%);">Pedals</span>
<span class="t" style="font-size:10px;line-height:10px;color:#000;left:945.8000000000001px;top:278.882155px;transform-origin:0 0;transform:rotate(-90deg) translate(0,-50%);">132,205</span>
<span class="t" style="font-size:10px;line-height:10px;color:#000;left:945.8000000000001px;top:497.9px;transform-origin:0 0;transform:rotate(-90deg) translate(-100%,-50%);">Pumps</span>
<span class="t" style="font-size:10px;line-height:10px;color:#000;left:967.8100000000001px;top:324.740264px;transform-origin:0 0;transform:rotate(-90deg) translate(0,-50%);">103,704</span>
<span class="t" style="font-size:10px;line-height:10px;color:#000;left:967.8100000000001px;top:497.9px;transform-origin:0 0;transform:rotate(-90deg) translate(-100%,-50%);">Road Bikes</span>
<div style="left:377px;top:252px;width:6px;height:1px;background:#dadada;"></div>
<span class="t" style="font-size:10px;line-height:10px;color:#222;left:374.2px;top:246.94px;transform:translateX(-100%) rotate(0.05deg);">150K</span>
<div style="left:377px;top:332px;width:6px;height:1px;background:#dadada;"></div>
<span class="t" style="font-size:10px;line-height:10px;color:#222;left:374.2px;top:326.94px;transform:translateX(-100%) rotate(0.05deg);">100K</span>
<div style="left:377px;top:412px;width:6px;height:1px;background:#dadada;"></div>
<span class="t" style="font-size:10px;line-height:10px;color:#222;left:374.2px;top:406.94px;transform:translateX(-100%) rotate(0.05deg);">50K</span>
<span class="t" style="font-size:10px;line-height:10px;color:#222;left:374.2px;top:478.94px;transform:translateX(-100%) rotate(0.05deg);">0K</span>
<span class="t" style="font-size:10px;line-height:10px;color:#111;left:339.4px;top:340px;transform-origin:0 0;transform:rotate(-90deg) translate(-50%,-50%);">SUM(Profit)</span>
<span class="t" style="font-size:10px;line-height:10px;color:#000;letter-spacing:0.011px;left:639px;top:168.94px;transform:rotate(0.05deg);">Product Category</span>
</div>
<div style="left:385px;top:590px;width:588px;height:14px;background:#f3f3f3;"></div>
<div style="left:385.5px;top:590px;width:425px;height:14px;background:linear-gradient(#ececec,#d9d9d9);border:1px solid #c6c6c6;border-bottom:none;"></div>
<div style="left:163px;top:608.7px;width:825px;height:1.2px;background:#a6a6a6;"></div>
<div style="left:247px;top:608.7px;width:103px;height:29px;background:#fff;border:1px solid #a6a6a6;border-top:none;"></div>
<div style="left:9px;top:641.8px;width:979px;height:1.2px;background:#b0b0b0;"></div>
<span class="t" style="font-size:11.5px;line-height:11.5px;color:#000;letter-spacing:0.237px;font-weight:bold;left:253.5px;top:618.67px;">Worksheet 1</span>
<svg style="left:336px;top:622px" width="8" height="5" viewBox="0 0 8 5"><path d="M0 0 H7.4 L3.7 4.3 Z" fill="#8a8a8a"/></svg>
<svg style="left:170px;top:617px" width="17" height="16" viewBox="0 0 17 16">
<rect x="0.8" y="13" width="1.5" height="1.6" fill="#8a8a8a"/><rect x="3.8" y="10.2" width="1.7" height="4.4" fill="#8a8a8a"/><rect x="7.2" y="7.6" width="1.8" height="7" fill="#8a8a8a"/><rect x="10.6" y="7" width="1.8" height="7.6" fill="#8a8a8a"/><rect x="13.8" y="8.4" width="1.8" height="6.2" fill="#8a8a8a"/>
<path d="M11.5 0.8999999999999999 V8.1 M7.9 4.5 H15.1" stroke="#1fc03c" stroke-width="3.2"/><path d="M11.5 2.1 V6.9 M9.1 4.5 H13.9" stroke="#d8f8dc" stroke-width="1"/></svg>
<svg style="left:196px;top:617px" width="16" height="16" viewBox="0 0 16 16">
<rect x="0" y="1.3" width="4" height="4" fill="#8a8a8a"/><rect x="0" y="6" width="4" height="4" fill="#8a8a8a"/><rect x="0" y="10.7" width="4" height="4" fill="#8a8a8a"/>
<rect x="5" y="1.3" width="2" height="4" fill="#8a8a8a"/><rect x="5" y="6" width="4" height="4" fill="#8a8a8a"/><rect x="5" y="10.7" width="4" height="4" fill="#8a8a8a"/><rect x="10" y="7.5" width="4" height="2.5" fill="#8a8a8a"/><rect x="10" y="10.7" width="4" height="4" fill="#8a8a8a"/>
<path d="M10.5 0.6999999999999997 V7.9 M6.9 4.3 H14.1" stroke="#1fc03c" stroke-width="3.2"/><path d="M10.5 1.9 V6.699999999999999 M8.1 4.3 H12.9" stroke="#d8f8dc" stroke-width="1"/></svg>
<div style="left:221px;top:619px;width:14.5px;height:2px;background:#8c8c8c;"></div>
<div style="left:221px;top:622px;width:14.5px;height:2px;background:#8c8c8c;"></div>
<div style="left:221px;top:625px;width:14.5px;height:2px;background:#8c8c8c;"></div>
<div style="left:221px;top:628px;width:14.5px;height:2px;background:#8c8c8c;"></div>
<div style="left:154px;top:34px;width:71px;height:21px;background:#f5f6f7;border:1px solid #3399ff;border-bottom:none;"></div>
<span class="t" style="font-size:12px;line-height:12px;color:#000;letter-spacing:-0.235px;left:161.3px;top:40.24px;">Dashboard</span>
<div style="left:154px;top:54px;width:189px;height:121px;background:#fafafb;border:1px solid #3399ff;"></div>
<div style="left:155px;top:55px;width:24.5px;height:119px;background:#f3f3f6;"></div>
<div style="left:155px;top:54px;width:69px;height:1px;background:#f5f6f7;"></div>
<span class="t" style="font-size:12px;line-height:12px;color:#000;letter-spacing:-0.211px;left:188.5px;top:62.24px;">New Dashboard</span>
<div style="left:188px;top:79.2px;width:153.5px;height:1px;background:#dedede;"></div>
<span class="t" style="font-size:12px;line-height:12px;color:#a6a6a6;letter-spacing:-0.097px;left:188.5px;top:87.24px;">Share Legend Highlight</span>
<div style="left:188px;top:102.9px;width:153.5px;height:1px;background:#dedede;"></div>
<span class="t" style="font-size:12px;line-height:12px;color:#a6a6a6;letter-spacing:-0.165px;left:188.5px;top:111.24px;">Export To</span>
<span class="t" style="font-size:12px;line-height:12px;color:#a6a6a6;letter-spacing:-0.398px;left:188.5px;top:132.24px;">Clear</span>
<div style="left:188px;top:149px;width:153.5px;height:1px;background:#dedede;"></div>
<span class="t" style="font-size:12px;line-height:12px;color:#a6a6a6;letter-spacing:-0.106px;left:188.5px;top:157.24px;">Show Title</span>
<svg style="left:328.3px;top:88.6px" width="4" height="7" viewBox="0 0 4 7"><path d="M0 0 L3.8 3.3 L0 6.6 Z" fill="#8c8c8c"/></svg>
<svg style="left:328.3px;top:112.4px" width="4" height="7" viewBox="0 0 4 7"><path d="M0 0 L3.8 3.3 L0 6.6 Z" fill="#8c8c8c"/></svg>
</body></html>
